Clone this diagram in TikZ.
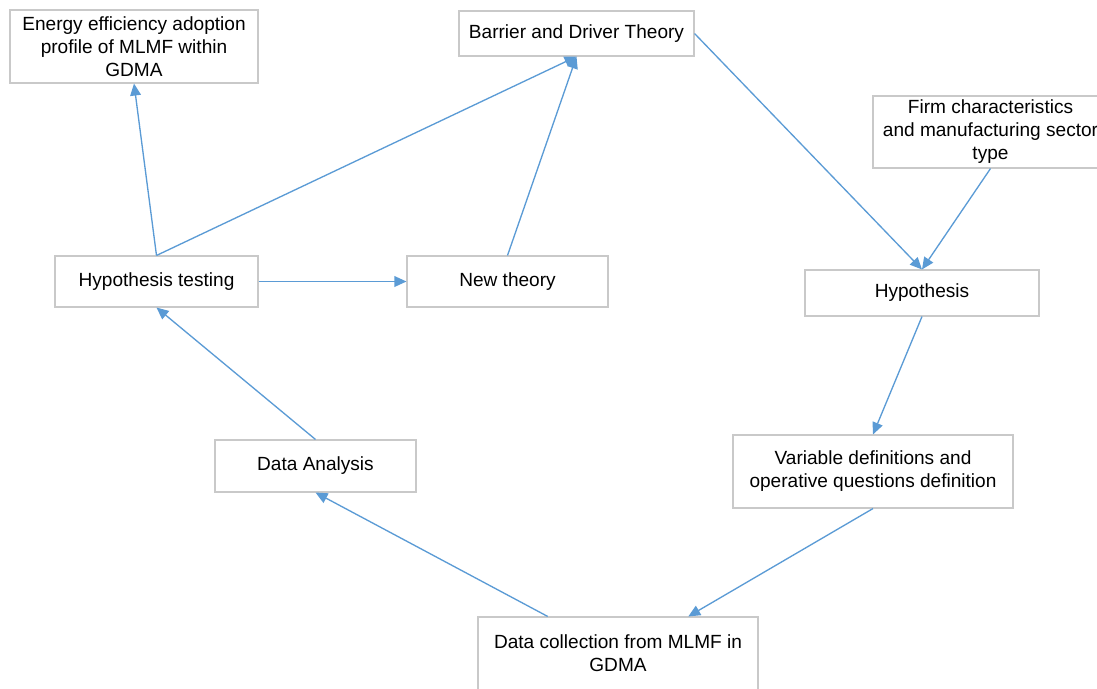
\documentclass[tikz,border=0pt]{standalone}
\usepackage{fontspec}
\setmainfont{Liberation Sans}
\usetikzlibrary{arrows.meta,calc,shadows}
\definecolor{linkblue}{HTML}{5B9BD5}
\definecolor{boxgray}{HTML}{C9C9C9}

\begin{document}
\begin{tikzpicture}[x=0.75pt,y=-0.75pt,>={Triangle[length=9pt,width=8pt]},
  box/.style={draw=boxgray,line width=0.8pt,fill=white,align=center,inner sep=0pt,
    font=\fontsize{14.3pt}{17.3pt}\selectfont,
    drop shadow={shadow xshift=1pt,shadow yshift=-1pt,opacity=0.08}},
  link/.style={->,linkblue,line width=1pt}]
  \useasboundingbox (0,0) rectangle (1097,689);

  % boxes
  \node[box,minimum width=186pt,minimum height=54.75pt] (eff) at (134,46.5) {Energy efficiency adoption\\profile of MLMF within\\GDMA};
  \node[box,minimum width=176.25pt,minimum height=33.75pt] (bdt) at (576.5,33.5) {Barrier and Driver Theory};
  \node[box,minimum width=176.25pt,minimum height=54pt] (firm) at (990.5,132) {Firm characteristics\\and manufacturing sector\\type};
  \node[box,minimum width=152.25pt,minimum height=38.25pt] (htest) at (156.5,281.5) {Hypothesis testing};
  \node[box,minimum width=150.75pt,minimum height=38.25pt] (newth) at (507.5,281.5) {New theory};
  \node[box,minimum width=175.5pt,minimum height=34.5pt] (hyp) at (922,293) {Hypothesis};
  \node[box,minimum width=210pt,minimum height=54.75pt] (vardef) at (873,471.5) {Variable definitions and\\operative questions definition};
  \node[box,minimum width=150.75pt,minimum height=39pt] (dana) at (315.5,466) {Data Analysis};
  \node[box,minimum width=210pt,minimum height=54.75pt] (dcoll) at (618,653.5) {Data collection from MLMF in\\GDMA};

  % connectors
  \draw[link] (htest.north) -- (eff.south);
  \draw[link] (htest.north) -- (bdt.south);
  \draw[link] (newth.north) -- (bdt.south);
  \draw[link] (bdt.east) -- (hyp.north);
  \draw[link] (firm.south) -- (hyp.north);
  \draw[link] (hyp.south) -- (vardef.north);
  \draw[link] (vardef.south) -- ($(dcoll.north)!0.5!(dcoll.north east)$);
  \draw[link] ($(dcoll.north)!0.5!(dcoll.north west)$) -- (dana.south);
  \draw[link] (dana.north) -- (htest.south);
  \draw[link] (htest.east) -- (newth.west);
\end{tikzpicture}
\end{document}
